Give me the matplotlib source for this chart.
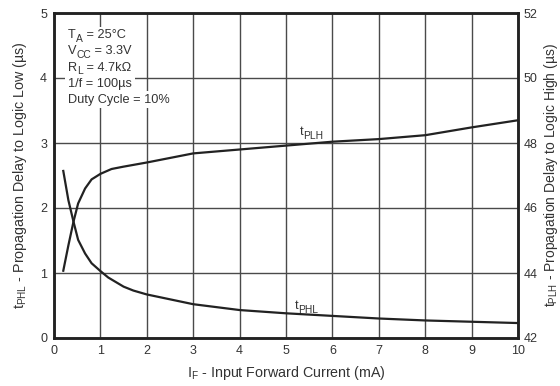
import matplotlib
matplotlib.use("Agg")
import matplotlib.pyplot as plt
from matplotlib.transforms import offset_copy

plt.rcParams['font.family'] = ['Liberation Sans', 'DejaVu Sans']
plt.rcParams['mathtext.fontset'] = 'custom'
plt.rcParams['mathtext.rm'] = 'Liberation Sans'

# Data
x_phl = [0.2, 0.31, 0.42, 0.52, 0.67, 0.81, 1.0, 1.17, 1.5, 1.71, 2, 3, 4, 5, 6, 7, 8, 9, 10]
t_phl = [2.57, 2.12, 1.79, 1.51, 1.30, 1.15, 1.03, 0.93, 0.79, 0.73, 0.67, 0.52, 0.43, 0.38, 0.34, 0.30, 0.27, 0.25, 0.23]

x_plh = [0.2, 0.31, 0.42, 0.52, 0.67, 0.81, 1.0, 1.24, 1.49, 2, 3, 4, 5, 6, 7, 8, 9, 10]
t_plh = [44.07, 44.85, 45.58, 46.14, 46.6, 46.88, 47.05, 47.2, 47.27, 47.4, 47.68, 47.8, 47.92, 48.04, 48.12, 48.24, 48.48, 48.7]

x_ticks = list(range(0, 11))
left_ticks = [0, 1, 2, 3, 4, 5]
right_ticks = [42, 44, 46, 48, 50, 52]

conditions = [
    [('T', False), ('A', True), (' = 25°C', False)],
    [('V', False), ('CC', True), (' = 3.3V', False)],
    [('R', False), ('L', True), (' = 4.7kΩ', False)],
    [('1/f = 100µs', False)],
    [('Duty Cycle = 10%', False)],
]

TXT = '#333333'

fig = plt.figure(figsize=(5.6, 3.86), dpi=100)
ax = fig.add_axes([54/560, 1-338/386, 464/560, 325/386])
ax2 = ax.twinx()

ax.set_xlim(0, 10)
ax.set_ylim(0, 5)
ax2.set_ylim(42, 52)
ax.set_xticks(x_ticks)
ax.set_yticks(left_ticks)
ax2.set_yticks(right_ticks)
ax.grid(True, color='#4a4a4a', linewidth=1.0)
ax.set_axisbelow(True)
ax.tick_params(length=0, labelsize=9, colors=TXT, pad=5)
ax2.tick_params(length=0, labelsize=9, colors=TXT, pad=4)

for a in (ax, ax2):
    for s in a.spines.values():
        s.set_linewidth(1.8)
        s.set_color('#222222')

ax.plot(x_phl, t_phl, color='#222222', linewidth=1.6, zorder=3)
ax2.plot(x_plh, t_plh, color='#222222', linewidth=1.6, zorder=3)

renderer = fig.canvas.get_renderer()


def draw_parts(x, y, parts, fs, bg=False):
    passes = [True, False] if bg else [False]
    for with_bg in passes:
        dx = 0.0
        for s, sub in parts:
            size = fs * 0.8 if sub else fs
            dy = -fs * 0.28 if sub else 0.0
            tr = offset_copy(ax.transData, fig=fig, x=dx, y=dy, units='points')
            if with_bg:
                t = ax.text(x, y, s, fontsize=size, color='white', transform=tr,
                            ha='left', va='baseline', zorder=4,
                            bbox=dict(facecolor='white', edgecolor='none', pad=2.0))
            else:
                t = ax.text(x, y, s, fontsize=size, color=TXT, transform=tr,
                            ha='left', va='baseline', zorder=5)
            w = t.get_window_extent(renderer).width * 72.0 / fig.dpi
            dx += w


baselines = [4.608, 4.362, 4.115, 3.869, 3.623]
for yb, parts in zip(baselines, conditions):
    draw_parts(0.30, yb, parts, 9.2, bg=True)

draw_parts(5.30, 3.12, [('t', False), ('PLH', True)], 9.2)
draw_parts(5.19, 0.446, [('t', False), ('PHL', True)], 9.2)

ax.set_xlabel(r'I$_\mathregular{F}$ - Input Forward Current (mA)', fontsize=10.3, color=TXT, labelpad=5)
ax.set_ylabel(r't$_\mathregular{PHL}$ - Propagation Delay to Logic Low (µs)', fontsize=10.3, color=TXT, labelpad=8)
ax2.set_ylabel(r't$_\mathregular{PLH}$ - Propagation Delay to Logic High (µs)', fontsize=10.0, color=TXT,
               rotation=90, labelpad=3)

fig.savefig('out.png', dpi=100)
